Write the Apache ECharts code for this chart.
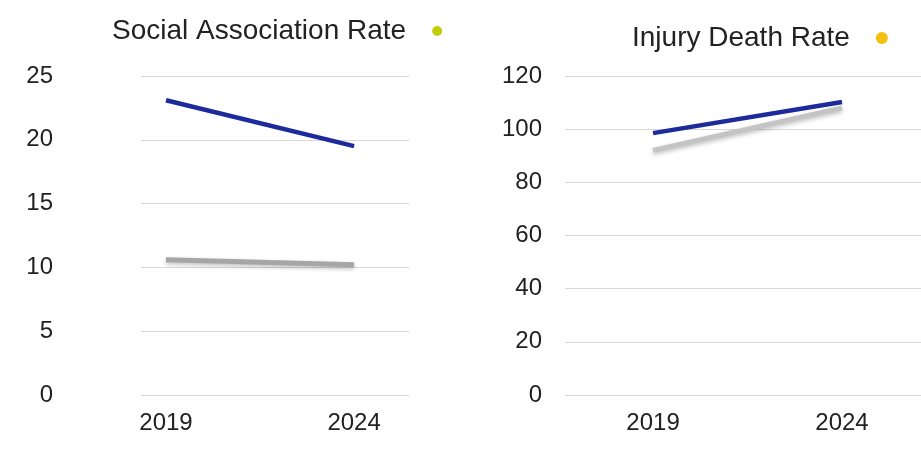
<!DOCTYPE html>
<html>
<head>
<meta charset="utf-8">
<script src="https://cdn.jsdelivr.net/npm/echarts@6/dist/echarts.min.js"></script>
<style>html,body{margin:0;padding:0;background:#fff;}#c{width:921px;height:451px;}</style>
</head>
<body>
<div id="c"></div>
<script>
var years = [2019, 2024];
var socialBlue = [23.1, 19.5];
var socialGray = [10.6, 10.2];
var injuryBlue = [98.5, 110.2];
var injuryGray = [92, 108];
var socialTicks = [0, 5, 10, 15, 20, 25];
var injuryTicks = [0, 20, 40, 60, 80, 100, 120];
var titles = ['Social Association Rate', 'Injury Death Rate'];

function pairs(vals) { return years.map(function (y, i) { return [y, vals[i]]; }); }

var FONT = '"Liberation Sans", Arial, sans-serif';
var chart = echarts.init(document.getElementById('c'));

function xAx(gi, min, max) {
  return {
    type: 'value', gridIndex: gi, min: min, max: max,
    axisLine: { show: false }, axisTick: { show: false }, splitLine: { show: false },
    axisLabel: { customValues: years, formatter: function (v) { return String(Math.round(v)); },
      color: '#222', fontSize: 24, fontFamily: FONT, margin: 16 }
  };
}
function yAx(gi, ticks, margin) {
  return {
    type: 'value', gridIndex: gi, min: ticks[0], max: ticks[ticks.length - 1],
    interval: ticks[1] - ticks[0],
    axisLine: { show: false }, axisTick: { show: false },
    splitLine: { lineStyle: { color: '#d8d8d8', width: 1 } },
    axisLabel: { color: '#222', fontSize: 24, fontFamily: FONT, margin: margin }
  };
}
function line(gi, vals, color, width, blur) {
  return {
    type: 'line', xAxisIndex: gi, yAxisIndex: gi, data: pairs(vals),
    symbol: 'none', lineStyle: { color: color, width: width, shadowColor: blur ? 'rgba(0,0,0,0.25)' : 'rgba(0,0,0,0)', shadowBlur: blur || 0, shadowOffsetY: blur ? 2 : 0 },
    z: blur ? 2 : 3
  };
}

chart.setOption({
  animation: false,
  backgroundColor: '#fff',
  title: [
    {
      text: titles[0] + '{g| }{d| }', left: 112, top: 17, padding: 0,
      textStyle: { fontSize: 28, fontWeight: 'normal', color: '#222', fontFamily: FONT,
        rich: { g: { width: 26, fontSize: 10 }, d: { width: 10, height: 10, borderRadius: 5, backgroundColor: '#c3cc10', padding: 0 } } }
    },
    {
      text: titles[1] + '{g| }{d| }', left: 632, top: 24, padding: 0,
      textStyle: { fontSize: 28, fontWeight: 'normal', color: '#222', fontFamily: FONT,
        rich: { g: { width: 26, fontSize: 10 }, d: { width: 12, height: 12, borderRadius: 6, backgroundColor: '#f2c010', padding: 0 } } }
    }
  ],
  grid: [
    { left: 141, right: 921 - 409, top: 76, bottom: 56 },
    { left: 565, right: 0, top: 76, bottom: 56 }
  ],
  xAxis: [xAx(0, 2018.335, 2025.46), xAx(1, 2016.67, 2026.09)],
  yAxis: [yAx(0, socialTicks, 88), yAx(1, injuryTicks, 23)],
  series: [
    line(0, socialGray, '#a6a6a6', 5, 4),
    line(0, socialBlue, '#1c2a9c', 4.5, 0),
    line(1, injuryGray, '#c4c4c4', 5, 4),
    line(1, injuryBlue, '#1c2a9c', 4.5, 0)
  ]
});
</script>
</body>
</html>
